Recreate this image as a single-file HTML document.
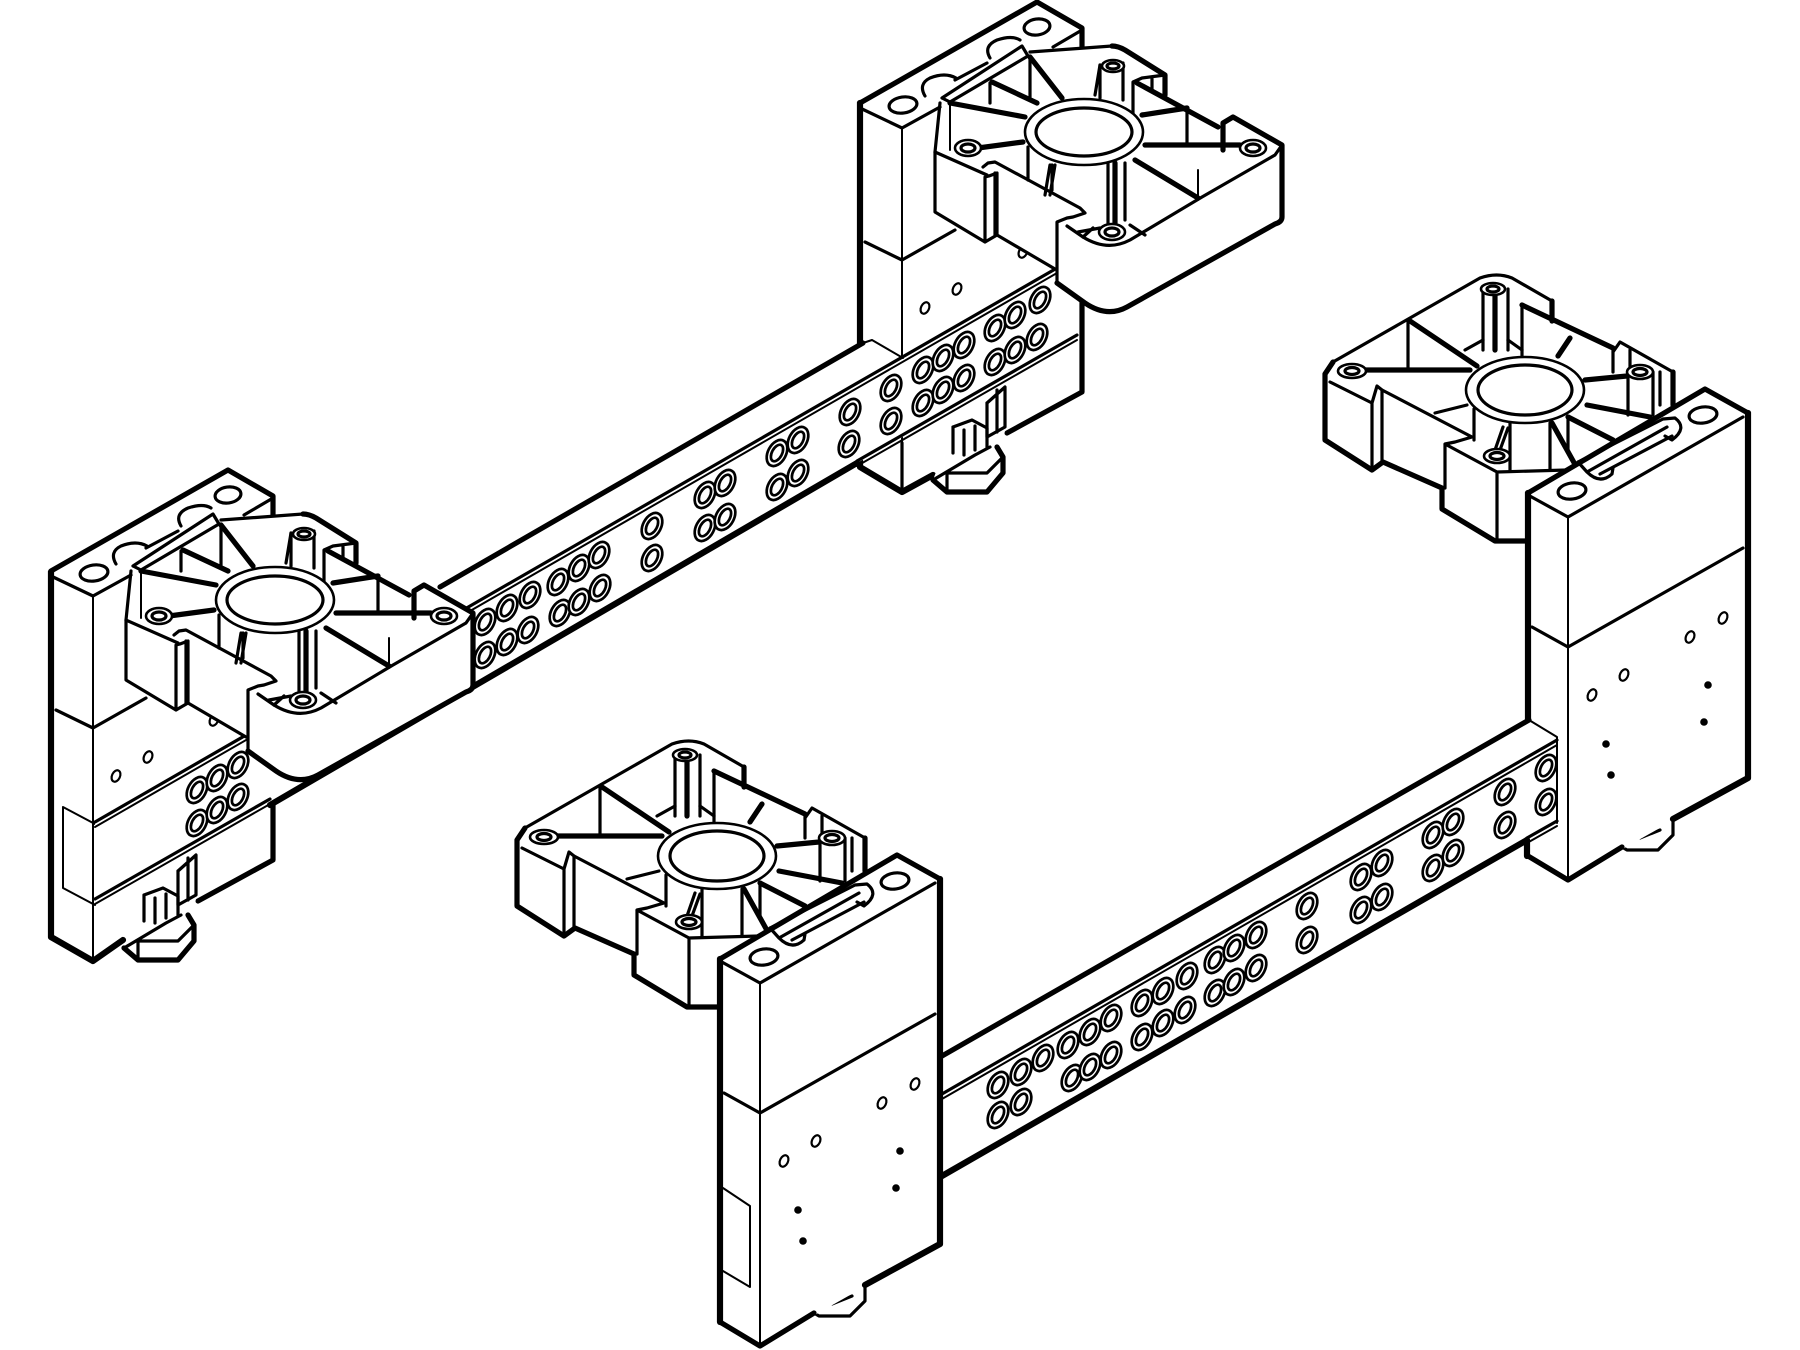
<!DOCTYPE html>
<html><head><meta charset="utf-8"><style>
html,body{margin:0;padding:0;background:#fff}
svg{display:block}
path,ellipse,polygon{stroke-linejoin:round;stroke-linecap:round}
.x{fill:none;stroke:#000;stroke-width:6.2}
.t{fill:none;stroke:#000;stroke-width:5.2}
.m{fill:none;stroke:#000;stroke-width:3.2}
.s{fill:none;stroke:#000;stroke-width:2}
.w{fill:#fff;stroke:none}
.e{fill:#fff;stroke:#000;stroke-width:2.6}
</style></head><body>
<svg xmlns="http://www.w3.org/2000/svg" width="1800" height="1350" viewBox="0 0 1800 1350">
<defs>
<g id="h"><g transform="rotate(28)" fill="#fff" stroke="#000" stroke-width="2.7"><ellipse rx="9" ry="14"/><ellipse rx="5" ry="9"/></g></g>
<g id="sh"><ellipse rx="4" ry="6" transform="rotate(25)" fill="#fff" stroke="#000" stroke-width="2.2"/></g>

<g id="postA">
<polygon class="w" points="860,103 1037,2 1082,28 1082,392 902,492 860,467"/>
<path class="t" d="M860,103 L1037,2 L1082,28 V48"/>
<path class="m" d="M860,108 L902,128 L940,107 M1053,47 L1082,30"/>
<path class="s" d="M902,128 V490"/>
<path class="m" d="M865,242 L902,260 L955,230"/>
<path class="t" d="M1082,300 V392 L1007,433"/>
<ellipse class="m" cx="903" cy="105" rx="14" ry="8" transform="rotate(-8 903 105)"/>
<ellipse class="m" cx="1037" cy="27" rx="13" ry="8" transform="rotate(-8 1037 27)"/>
<path class="m" d="M955,80 L987,63 M925,96 Q918,84 930,78 Q945,72 956,78 M990,58 Q983,46 997,40 Q1012,35 1020,40"/>
<use href="#sh" x="925" y="308"/><use href="#sh" x="957" y="289"/><use href="#sh" x="1023" y="252"/>
</g>

<g id="foot">
<polygon class="w" points="953,427 987,403 1005,387 1005,427 1003,457 1003,473 987,492 947,492 933,480"/>
<path class="m" d="M987,403 L1005,387 V427 L987,437 V403 M997,390 V432"/>
<path class="m" d="M953,427 L972,420 L987,428 V447 M953,427 V453 M964,430 V455 M975,426 V450"/>
<path class="t" d="M997,447 L1003,457 V473 L987,492 H947 L933,480"/>
<path class="m" d="M947,473 H987 L1003,457 M947,473 V492 M933,480 L975,455 L990,447"/>
</g>

<g id="trayA">
<path class="w" d="M935,212 V152 L945,100 L1040,50 L1112,46 L1165,75 V95 L1223,123 L1233,117 L1282,145 V217 Q1282,222 1275,224 L1127,307 Q1107,318 1085,303 L1057,283 V270 L997,235 L985,242 Z"/>
<path class="t" d="M1025,117 L950,103 M1037,103 L992,82 M1062,98 L1030,57 M1023,142 L978,148 M1142,115 L1187,108 M1145,145 H1240 M1135,160 L1198,198"/>
<path class="m" d="M990,83 V103 M1030,57 V97 M1187,110 V145 M1100,65 V98 M1123,63 V100"/>
<path class="m" d="M1030,52 L1112,46"/>
<path class="t" d="M1112,46 Q1118,46 1125,50 L1165,75 V95 M1137,83 L1218,127"/>
<path class="m" d="M1133,113 V82 L1142,78 L1165,75 M1152,78 V92"/>
<path class="t" d="M1223,150 V123 L1233,117 L1282,145 V217 Q1282,222 1275,224 L1127,307 Q1107,318 1085,303 L1057,283"/>
<path class="m" d="M1057,283 V222 L1067,218 L1073,217 L1085,213 L1080,208 L995,162 L988,163 L983,167"/>
<path class="m" d="M1275,155 L1202,197 L1130,240 Q1107,252 1083,237 L1067,226 M1282,145 L1275,155"/>
<path class="m" d="M935,152 V212 L985,242 L997,235 V173 L989,176 L985,177 V242 M987,175 L935,152 M995,173 V235"/>
<path class="m" d="M997,235 L1055,269 M940,103 L935,152"/>
<path class="s" d="M950,103 V150 M1198,200 V170"/>
<path class="m" d="M1028,147 V180 M1052,165 V190 M1108,163 V223 M1125,163 V220 M1100,65 L1095,95 M1050,165 L1045,195 M1055,165 L1050,195"/>
<path class="t" d="M1115,163 V223"/>
<path class="m" d="M1083,237 L1093,228 M1130,225 L1145,235 M1078,232 L1100,228"/>
<ellipse class="e" cx="1084" cy="132" rx="59" ry="33"/>
<ellipse class="e" cx="1084" cy="132" rx="48" ry="24" style="stroke-width:3.2"/>
<ellipse class="e" cx="1113" cy="66" rx="11" ry="6"/><ellipse class="m" cx="1113" cy="66" rx="6" ry="3"/>
<ellipse class="e" cx="968" cy="148" rx="13" ry="8"/><ellipse class="m" cx="968" cy="148" rx="7" ry="4"/>
<ellipse class="e" cx="1253" cy="148" rx="13" ry="8"/><ellipse class="m" cx="1253" cy="148" rx="7" ry="4"/>
<ellipse class="e" cx="1112" cy="232" rx="13" ry="8"/><ellipse class="m" cx="1112" cy="232" rx="7" ry="4"/>
<path class="m" d="M942,98 L1022,46 M950,102 L1028,56 M942,98 L950,102 M1022,46 L1028,56"/>
</g>

<g id="trayB">
<path class="w" d="M1325,374 L1333,362 L1480,278 L1497,276 L1512,278 L1552,301 V321 L1613,348 L1620,342 L1673,372 V405 L1528,540 H1495 L1442,509 V488 L1383,462 L1372,470 L1325,440 Z"/>
<path class="t" d="M1365,370 H1470 M1410,321 L1477,366 M1570,338 L1558,356 M1585,380 L1627,376 M1587,405 L1650,417 M1552,423 L1577,468 M1568,417 L1613,440"/>
<path class="m" d="M1408,321 V370 M1522,305 V356 M1568,417 V450 M1435,413 L1467,405"/>
<path class="m" d="M1333,362 L1480,278 Q1497,272 1512,278 L1552,301"/>
<path class="t" d="M1552,301 V321 M1522,305 L1613,348"/>
<path class="m" d="M1613,352 L1620,342 L1673,372 M1613,348 V372 M1630,350 V372"/>
<path class="t" d="M1673,372 V405 M1325,374 V440 L1372,470 L1383,462 L1442,488 V509 L1495,541 H1528 M1325,374 L1333,362"/>
<path class="m" d="M1330,382 L1372,403 V470 M1382,390 V462 M1372,403 L1377,386 L1382,390 L1472,437 L1455,442 L1445,444 V488 M1445,444 L1497,472 V541 M1497,472 L1567,470"/>
<path class="m" d="M1474,409 V440 M1510,423 V470 M1550,423 V470 M1483,289 V350 M1508,289 V350 M1628,372 V415 M1653,372 V415 M1660,372 V405"/>
<path class="t" d="M1495,289 V350"/>
<path class="m" d="M1503,427 L1495,450 M1508,428 L1500,450 M1465,350 L1483,340 M1508,340 L1522,350"/>
<ellipse class="e" cx="1525" cy="390" rx="59" ry="33"/>
<ellipse class="e" cx="1525" cy="390" rx="47" ry="25" style="stroke-width:3.2"/>
<ellipse class="e" cx="1493" cy="289" rx="12" ry="6"/><ellipse class="m" cx="1493" cy="289" rx="6" ry="3"/>
<ellipse class="e" cx="1640" cy="372" rx="13" ry="7"/><ellipse class="m" cx="1640" cy="372" rx="7" ry="3.5"/>
<ellipse class="e" cx="1352" cy="371" rx="14" ry="7"/><ellipse class="m" cx="1352" cy="371" rx="7" ry="3.5"/>
<ellipse class="e" cx="1497" cy="456" rx="13" ry="7"/><ellipse class="m" cx="1497" cy="456" rx="7" ry="3.5"/>
</g>

<g id="postB">
<polygon class="w" points="1528,493 1705,389 1748,413 1748,778 1568,880 1528,856"/>
<path class="t" d="M1528,493 L1705,389 L1748,413"/>
<path class="m" d="M1528,495 L1568,517 L1743,417"/>
<path class="s" d="M1568,517 V880"/>
<path class="m" d="M1532,627 L1568,647 L1743,548"/>
<path class="x" d="M1748,413 V778 L1673,819"/>
<path class="t" d="M1622,847 L1568,880 L1528,856"/>
<ellipse class="m" cx="1572" cy="491" rx="14" ry="8" transform="rotate(-8 1572 491)"/>
<ellipse class="m" cx="1703" cy="415" rx="14" ry="8" transform="rotate(-8 1703 415)"/>
<path class="m" d="M1578,462 L1663,419 M1587,472 L1667,427 M1600,474 L1672,436 M1587,472 Q1600,485 1612,474 L1613,468 M1663,419 L1675,418 Q1688,428 1672,440 L1665,436 M1578,462 L1587,472"/>
<use href="#sh" x="1592" y="695"/><use href="#sh" x="1624" y="675"/><use href="#sh" x="1690" y="637"/><use href="#sh" x="1723" y="618"/>
<circle cx="1606" cy="744" r="3.8" fill="#000"/><circle cx="1611" cy="775" r="3.8" fill="#000"/><circle cx="1708" cy="685" r="3.8" fill="#000"/><circle cx="1704" cy="722" r="3.8" fill="#000"/>
</g>

<g id="footB">
<polygon class="w" points="1622,847 1627,850 1658,852 1673,835 1673,809"/>
<path class="m" d="M1622,847 L1627,850 H1658 L1673,835 V812 M1640,838 L1660,830"/>
</g>
</defs>

<use href="#postA"/>
<path class="x" d="M860,103 V345 M860,450 V467 L902,492 L933,475"/>
<use href="#foot"/>

<g transform="translate(-809,468)"><use href="#postA"/><use href="#foot"/></g>
<path class="x" d="M51,572 V937 L93,961 L123,940"/>
<path class="s" d="M63,807 L95,824 M63,807 V888 L95,905"/>

<polygon class="w" points="95,823 440,587 872,340 903,358 1057,270 1077,337 857,463 440,700 270,805 95,900"/>
<path class="t" d="M440,587 L863,343"/>
<path class="s" d="M872,340 L903,358 M863,343 L872,340"/>
<path class="m" d="M95,822 L1057,268"/>
<path class="s" d="M95,827 L1057,273"/>
<path class="m" d="M95,899 L270,799 M857,461 L1077,335"/>
<path class="s" d="M95,904 L270,804 M857,466 L1077,340"/>
<path class="x" d="M270,805 L857,463"/>
<path class="m" d="M902,443 V490"/>
<use href="#h" x="485" y="622"/><use href="#h" x="507" y="608"/><use href="#h" x="530" y="595"/><use href="#h" x="558" y="582"/><use href="#h" x="579" y="568"/><use href="#h" x="599" y="555"/><use href="#h" x="652" y="526"/><use href="#h" x="705" y="495"/><use href="#h" x="725" y="483"/><use href="#h" x="777" y="453"/><use href="#h" x="798" y="440"/><use href="#h" x="850" y="412"/><use href="#h" x="891" y="388"/><use href="#h" x="923" y="370"/><use href="#h" x="943" y="358"/><use href="#h" x="964" y="345"/><use href="#h" x="995" y="328"/><use href="#h" x="1015" y="315"/><use href="#h" x="1040" y="300"/>
<use href="#h" x="485" y="655"/><use href="#h" x="507" y="642"/><use href="#h" x="528" y="630"/><use href="#h" x="560" y="613"/><use href="#h" x="579" y="602"/><use href="#h" x="600" y="588"/><use href="#h" x="652" y="558"/><use href="#h" x="705" y="528"/><use href="#h" x="725" y="517"/><use href="#h" x="777" y="487"/><use href="#h" x="798" y="473"/><use href="#h" x="849" y="444"/><use href="#h" x="891" y="421"/><use href="#h" x="923" y="403"/><use href="#h" x="943" y="390"/><use href="#h" x="964" y="378"/><use href="#h" x="995" y="362"/><use href="#h" x="1015" y="350"/><use href="#h" x="1037" y="337"/>
<use href="#h" x="197" y="790"/><use href="#h" x="217" y="778"/><use href="#h" x="238" y="765"/><use href="#h" x="197" y="823"/><use href="#h" x="217" y="810"/><use href="#h" x="238" y="797"/>

<use href="#trayA"/>
<g transform="translate(-809,468)"><use href="#trayA"/></g>

<use href="#trayB"/>
<use href="#footB"/>
<use href="#postB"/>
<path class="x" d="M1528,493 V719 M1527,843 V856"/>

<polygon class="w" points="935,1060 1529,720 1557,737 1557,823 1527,840 935,1180"/>
<path class="t" d="M935,1060 L1529,720"/>
<path class="s" d="M1529,720 L1557,737 V823"/>
<path class="m" d="M935,1098 L1557,740"/>
<path class="s" d="M935,1103 L1557,745"/>
<path class="m" d="M1527,838 L1557,821"/>
<path class="s" d="M1527,843 L1557,826"/>
<path class="x" d="M935,1180 L1527,840"/>
<use href="#h" x="998" y="1085"/><use href="#h" x="1021" y="1072"/><use href="#h" x="1043" y="1058"/><use href="#h" x="1068" y="1045"/><use href="#h" x="1090" y="1032"/><use href="#h" x="1111" y="1018"/><use href="#h" x="1142" y="1003"/><use href="#h" x="1163" y="991"/><use href="#h" x="1187" y="976"/><use href="#h" x="1215" y="960"/><use href="#h" x="1234" y="948"/><use href="#h" x="1256" y="935"/><use href="#h" x="1307" y="906"/><use href="#h" x="1361" y="877"/><use href="#h" x="1382" y="863"/><use href="#h" x="1433" y="835"/><use href="#h" x="1453" y="822"/><use href="#h" x="1505" y="792"/><use href="#h" x="1546" y="768"/>
<use href="#h" x="998" y="1115"/><use href="#h" x="1021" y="1102"/><use href="#h" x="1072" y="1078"/><use href="#h" x="1090" y="1067"/><use href="#h" x="1111" y="1055"/><use href="#h" x="1142" y="1037"/><use href="#h" x="1163" y="1023"/><use href="#h" x="1185" y="1010"/><use href="#h" x="1215" y="993"/><use href="#h" x="1234" y="982"/><use href="#h" x="1256" y="968"/><use href="#h" x="1307" y="940"/><use href="#h" x="1361" y="910"/><use href="#h" x="1382" y="897"/><use href="#h" x="1433" y="868"/><use href="#h" x="1453" y="853"/><use href="#h" x="1505" y="825"/><use href="#h" x="1546" y="802"/>

<g transform="translate(-808,466)">
<use href="#trayB"/>
<use href="#footB"/>
<use href="#postB"/>
</g>
<path class="x" d="M720,959 V1322"/>
<path class="s" d="M723,1188 L750,1206 V1287 L723,1271"/>
</svg>
</body></html>
